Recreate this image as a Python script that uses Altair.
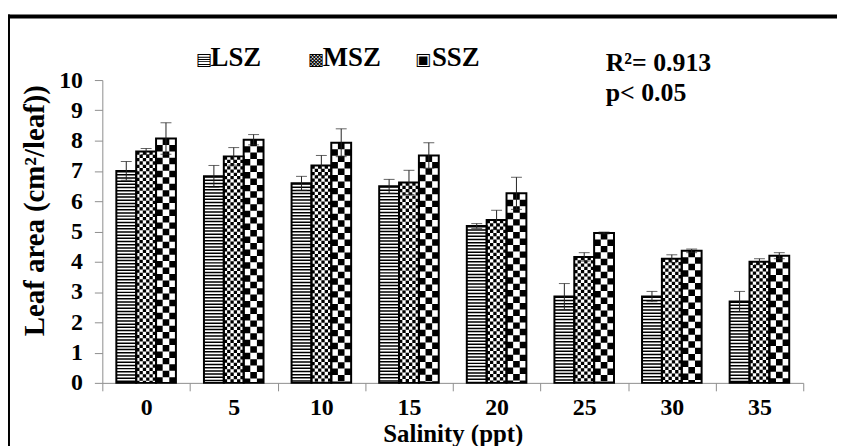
import altair as alt
import pandas as pd

# ---------------- data ----------------
salinity = ["0", "5", "10", "15", "20", "25", "30", "35"]
series_names = ["LSZ", "MSZ", "SSZ"]
lsz_mean = [7.00, 6.82, 6.59, 6.49, 5.18, 2.85, 2.85, 2.69]
lsz_err = [0.31, 0.36, 0.23, 0.23, 0.08, 0.43, 0.17, 0.33]
msz_mean = [7.64, 7.48, 7.18, 6.62, 5.38, 4.16, 4.10, 4.00]
msz_err = [0.10, 0.29, 0.33, 0.40, 0.32, 0.14, 0.13, 0.10]
ssz_mean = [8.07, 8.03, 7.93, 7.51, 6.26, 4.95, 4.36, 4.20]
ssz_err = [0.52, 0.17, 0.46, 0.42, 0.53, 0.03, 0.06, 0.10]

rows = []
for name, means, errs in zip(series_names,
                             [lsz_mean, msz_mean, ssz_mean],
                             [lsz_err, msz_err, ssz_err]):
    for s, m, e in zip(salinity, means, errs):
        rows.append({"salinity": s, "series": name, "value": m,
                     "lo": m - e, "hi": m + e})
df = pd.DataFrame(rows)

# ---------------- layout / style ----------------
W, H = 706, 305
FONT = "Times New Roman, Liberation Serif, DejaVu Serif, serif"
YTITLE = "Leaf area (cm²/leaf))"
XTITLE = "Salinity (ppt)"
BAR_W = 20
OFFSETS = {"LSZ": -20, "MSZ": 0, "SSZ": 20}

x_enc = alt.X("salinity:O", sort=salinity, title=XTITLE,
              scale=alt.Scale(paddingInner=0, paddingOuter=0))
y_scale = alt.Scale(domain=[0, 10], nice=False)


def y_enc(field):
    return alt.Y(f"{field}:Q", title=YTITLE, scale=y_scale)


base = alt.Chart(df)


def sub(name):
    return base.transform_filter(alt.datum.series == name)


layers = []

# ---- pattern fills made of dashed thick rules ----
# LSZ: horizontal stripes
layers.append(
    sub("LSZ").mark_rule(xOffset=OFFSETS["LSZ"], strokeWidth=BAR_W,
                         strokeDash=[1.5, 1.7], color="black")
    .encode(x=x_enc, y=y_enc("value"), y2=alt.datum(0))
)
# MSZ: fine checkerboard (6 columns)
n_m = 6
cw = BAR_W / n_m
for i in range(n_m):
    off = OFFSETS["MSZ"] - BAR_W / 2 + cw / 2 + i * cw
    layers.append(
        sub("MSZ").mark_rule(xOffset=off, strokeWidth=cw,
                             strokeDash=[3.3, 3.3],
                             strokeDashOffset=(3.3 if i % 2 else 0),
                             color="black")
        .encode(x=x_enc, y=y_enc("value"), y2=alt.datum(0))
    )
# SSZ: large checkerboard (3 columns)
n_s = 3
cs = BAR_W / n_s
for i in range(n_s):
    off = OFFSETS["SSZ"] - BAR_W / 2 + cs / 2 + i * cs
    layers.append(
        sub("SSZ").mark_rule(xOffset=off, strokeWidth=cs,
                             strokeDash=[6.5, 6.5],
                             strokeDashOffset=(6.5 if i % 2 == 0 else 0),
                             color="black")
        .encode(x=x_enc, y=y_enc("value"), y2=alt.datum(0))
    )

# ---- bar outlines and error bars ----
for name in series_names:
    off = OFFSETS[name]
    layers.append(
        sub(name).mark_bar(width=BAR_W, xOffset=off, fillOpacity=0,
                           stroke="black", strokeWidth=2)
        .encode(x=x_enc, y=y_enc("value"))
    )
for name in series_names:
    off = OFFSETS[name]
    layers.append(
        sub(name).mark_rule(xOffset=off, color="#222222", strokeWidth=1)
        .encode(x=x_enc, y=y_enc("lo"), y2="hi:Q")
    )
    for fld in ["lo", "hi"]:
        layers.append(
            sub(name).mark_tick(xOffset=off, size=11, thickness=1,
                                orient="horizontal", color="#222222")
            .encode(x=x_enc, y=y_enc(fld))
        )

# ---- legend (custom, as in the reference) ----
one = pd.DataFrame({"k": [0]})
legend_items = [("▤", "LSZ", 94, 109), ("▩", "MSZ", 207, 222), ("▣", "SSZ", 315, 332)]
for icon, label, ix, tx in legend_items:
    layers.append(
        alt.Chart(one).mark_text(text=icon, font="DejaVu Sans", fontSize=17,
                                 align="left", baseline="alphabetic", color="black")
        .encode(x=alt.value(ix), y=alt.value(-15))
    )
    layers.append(
        alt.Chart(one).mark_text(text=label, font=FONT, fontSize=27, fontWeight="bold",
                                 align="left", baseline="alphabetic", color="black")
        .encode(x=alt.value(tx), y=alt.value(-14))
    )

# ---- statistics annotation ----
for txt, yy in [("R²= 0.913", -9), ("p< 0.05", 21)]:
    layers.append(
        alt.Chart(one).mark_text(text=txt, font=FONT, fontSize=26, fontWeight="bold",
                                 align="left", baseline="alphabetic", color="black")
        .encode(x=alt.value(507), y=alt.value(yy))
    )

# ---- frame lines (top and left) ----
layers.append(
    alt.Chart(one).mark_rule(color="black", strokeWidth=4)
    .encode(x=alt.value(-95), x2=alt.value(W + 34), y=alt.value(-64))
)
layers.append(
    alt.Chart(one).mark_rule(color="black", strokeWidth=4)
    .encode(x=alt.value(-95), y=alt.value(-66), y2=alt.value(H + 70))
)

chart = (
    alt.layer(*layers)
    .properties(width=W, height=H,
                padding={"left": 95, "top": 71, "right": 34, "bottom": 62},
                autosize=alt.AutoSizeParams(type="none"))
    .configure_view(strokeWidth=0)
    .configure_axisX(
        labelAngle=0, tickBand="extent", tickSize=8, labelPadding=5,
        domainColor="#8e8e8e", tickColor="#8e8e8e",
        labelFont=FONT, labelFontSize=24, labelFontWeight="bold", labelColor="black",
        titleFont=FONT, titleFontSize=25, titleFontWeight="bold", titleColor="black",
        titleY=59, titleBaseline="alphabetic",
    )
    .configure_axisY(
        grid=False, tickCount=10, tickSize=8, labelPadding=12,
        domainColor="#8e8e8e", tickColor="#8e8e8e",
        labelFont=FONT, labelFontSize=24, labelFontWeight="bold", labelColor="black",
        titleFont=FONT, titleFontSize=29, titleFontWeight="bold", titleColor="black",
        titleX=-68, titleY=131, titleBaseline="middle", titleAlign="center",
    )
)

chart.save("out.html", embed_options={"renderer": "svg", "actions": False})
